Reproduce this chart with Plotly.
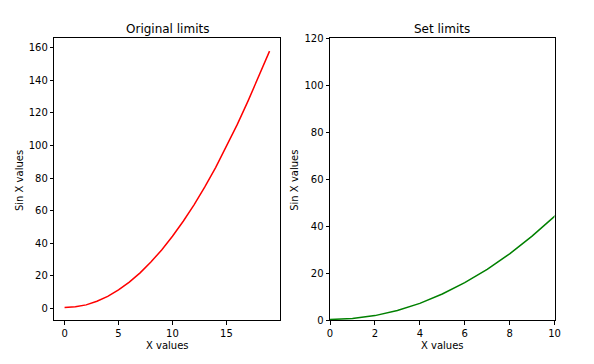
import plotly.graph_objects as go

x_left = list(range(20))
y_left = [0.4, 0.8, 2.0, 4.2, 7.2, 11.2, 16.0, 21.7, 28.3, 35.8, 44.2, 53.4,
          63.5, 74.5, 86.4, 99.2, 112.8, 127.3, 142.7, 158.0]
x_right = x_left
y_right = y_left

# page body has an 8px margin; shrink figure so it fits the window
OFF = 8
W, H = 594 - OFF, 364 - OFF
def px(v): return (v - OFF) / W
def py(v): return 1 - (v - OFF) / H

FONT = "DejaVu Sans"
fig = go.Figure()
fig.add_trace(go.Scatter(x=x_left, y=y_left, mode="lines",
                         line=dict(color="#ff0000", width=1.5), xaxis="x", yaxis="y",
                         showlegend=False))
fig.add_trace(go.Scatter(x=x_right, y=y_right, mode="lines",
                         line=dict(color="#008000", width=1.5), xaxis="x2", yaxis="y2",
                         showlegend=False, cliponaxis=True))

axis_common = dict(showgrid=False, zeroline=False, showline=True, linecolor="black",
                   linewidth=1, mirror=True, ticks="outside", ticklen=3.5,
                   tickcolor="black", tickfont=dict(family=FONT, size=10, color="black"))

def ann(text, x, y, size=10, angle=0):
    return dict(text=text, x=px(x), y=py(y), xref="paper", yref="paper",
                xanchor="center", yanchor="middle", showarrow=False, textangle=angle,
                font=dict(family=FONT, size=size, color="black"))

fig.update_layout(
    width=W, height=H,
    margin=dict(l=0, r=0, t=0, b=0),
    paper_bgcolor="white", plot_bgcolor="white",
    xaxis=dict(domain=[px(52), px(281)], range=[-0.95, 19.95],
               tickvals=[0, 5, 10, 15], anchor="y", **axis_common),
    yaxis=dict(domain=[py(325), py(33)], range=[-7.5, 166],
               tickvals=[0, 20, 40, 60, 80, 100, 120, 140, 160], anchor="x", **axis_common),
    xaxis2=dict(domain=[px(332), px(560)], range=[0, 10],
                tickvals=[0, 2, 4, 6, 8, 10], anchor="y2", **axis_common),
    yaxis2=dict(domain=[py(325), py(33)], range=[0, 120],
                tickvals=[0, 20, 40, 60, 80, 100, 120], anchor="x2", **axis_common),
    annotations=[
        ann("Original limits", 166.5, 24, size=12),
        ann("Set limits", 446, 24, size=12),
        ann("X values", 166.5, 351),
        ann("X values", 446, 351),
        ann("Sin X values", 16, 180, angle=-90),
        ann("Sin X values", 296, 180, angle=-90),
    ],
)

fig.write_html("out.html")
